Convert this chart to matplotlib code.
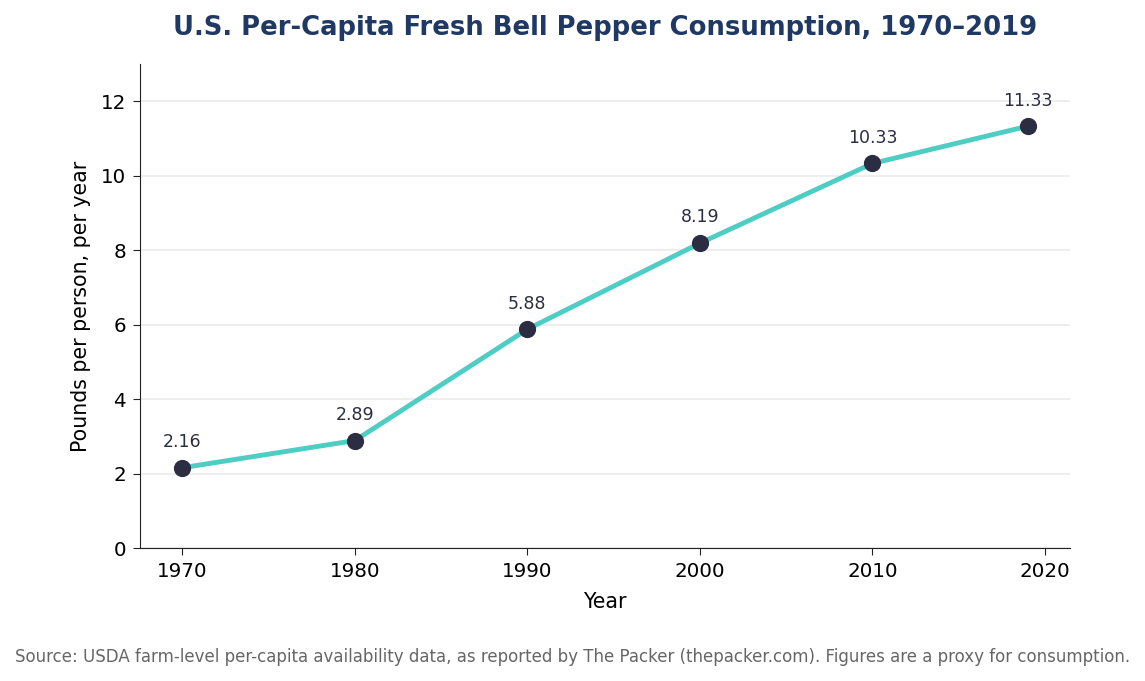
#!/usr/bin/env python

import matplotlib

matplotlib.use("Agg")
import matplotlib.pyplot as plt

years = [1970, 1980, 1990, 2000, 2010, 2019]
pounds = [2.16, 2.89, 5.88, 8.19, 10.33, 11.33]

LINE = "#4ecdc4"
DOT = "#2b2d42"
TITLE = "#1f3864"

fig, ax = plt.subplots(figsize=(11.45, 6.81), dpi=100)
fig.subplots_adjust(left=0.1223, right=0.9345, top=0.906, bottom=0.195)

ax.plot(years, pounds, color=LINE, linewidth=3.5, zorder=2)
ax.scatter(years, pounds, s=130, color=DOT, zorder=3)

for x, y in zip(years, pounds):
    ax.annotate(
        f"{y:.2f}",
        (x, y),
        xytext=(0, 12),
        textcoords="offset points",
        ha="center",
        va="bottom",
        fontsize=12.5,
        color=DOT,
    )

ax.set_ylim(0, 13)
ax.set_xticks([1970, 1980, 1990, 2000, 2010, 2020])
ax.set_yticks(range(0, 13, 2))
ax.tick_params(labelsize=14.3, length=5, pad=5, color="#222222")
ax.grid(axis="y", color="#ebebeb", linewidth=1.2)
ax.set_axisbelow(True)
for side in ["top", "right"]:
    ax.spines[side].set_visible(False)
for side in ["left", "bottom"]:
    ax.spines[side].set_color("#222222")

ax.set_xlabel("Year", fontsize=14.8, labelpad=8)
ax.set_ylabel("Pounds per person, per year", fontsize=14.8, labelpad=7)
ax.set_title(
    "U.S. Per-Capita Fresh Bell Pepper Consumption, 1970–2019",
    fontsize=18.6,
    fontweight="bold",
    color=TITLE,
    pad=21,
)

fig.text(
    0.5,
    0.028,
    "Source: USDA farm-level per-capita availability data, as reported by The Packer "
    "(thepacker.com). Figures are a proxy for consumption.",
    ha="center",
    fontsize=12,
    color="#666666",
)

plt.savefig("out.png", dpi=100)
